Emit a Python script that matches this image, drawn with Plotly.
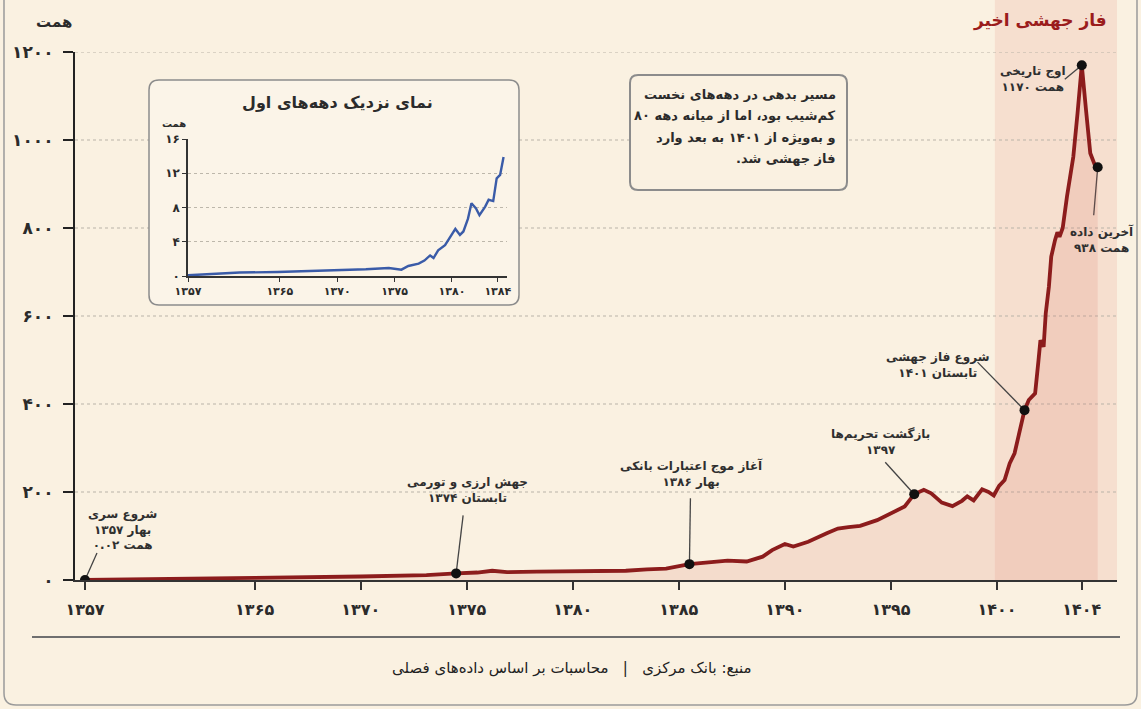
import plotly.graph_objects as go

# ---------------- data ----------------
years = [1357.0, 1360.8, 1365.0, 1370.0, 1373.1, 1374.5, 1375.5, 1376.2, 1376.9, 1378.3,
         1380.0, 1381.3, 1382.5, 1383.5, 1384.4, 1385.5, 1386.4, 1387.3, 1388.2, 1388.95,
         1389.4, 1390.0, 1390.4, 1391.1, 1392.0, 1392.5, 1393.0, 1393.55, 1394.35, 1395.0,
         1395.65, 1396.1, 1396.55, 1396.9, 1397.4, 1397.9, 1398.35, 1398.6, 1398.9, 1399.3,
         1399.6, 1399.85, 1400.1, 1400.36, 1400.6, 1400.83, 1401.0, 1401.2, 1401.3, 1401.5,
         1401.8, 1401.96, 1402.05, 1402.2, 1402.3, 1402.45, 1402.56, 1402.74, 1402.85, 1402.95,
         1403.1, 1403.3, 1403.6, 1403.8, 1404.0, 1404.2, 1404.4, 1404.6, 1404.75]
values = [0.02, 3, 5, 8, 11, 15, 17, 21, 18, 19,
          20, 22, 21, 24, 26, 36, 40, 44, 42, 53,
          68, 82, 76, 87, 107, 117, 120, 123, 136, 152,
          167, 195, 205, 197, 176, 168, 180, 190, 181, 206,
          200, 192, 214, 227, 265, 288, 326, 364, 386, 409,
          424, 500, 545, 530, 606, 667, 735, 773, 790, 780,
          800, 871, 962, 1061, 1170, 1068, 970, 945, 938]
assert len(years) == len(values)

inset_years = [1357.0, 1358.3, 1359.5, 1361.5, 1364.8, 1367.3, 1370.0, 1372.5, 1374.5, 1375.2,
               1375.6, 1376.2, 1377.1, 1377.6, 1378.1, 1378.4, 1378.8, 1379.4, 1379.8, 1380.3,
               1380.7, 1381.0, 1381.4, 1381.7, 1382.1, 1382.4, 1382.9, 1383.2, 1383.6, 1383.9,
               1384.2, 1384.5]
inset_values = [0.08, 0.15, 0.27, 0.4, 0.47, 0.55, 0.66, 0.78, 0.94, 0.86,
                0.74, 1.17, 1.45, 1.8, 2.4, 2.1, 3.0, 3.6, 4.4, 5.5,
                4.8, 5.2, 6.7, 8.5, 7.9, 7.1, 8.1, 8.9, 8.75, 11.4,
                11.8, 13.9]
assert len(inset_years) == len(inset_values)

event_years = [1357.0, 1374.5, 1385.5, 1396.1, 1401.3, 1404.0, 1404.75]
event_values = [0.02, 15, 36, 195, 386, 1170, 938]
event_labels = [
    "شروع سری<br>بهار ۱۳۵۷<br>۰.۰۲ همت",
    "جهش ارزی و تورمی<br>تابستان ۱۳۷۴",
    "آغاز موج اعتبارات بانکی<br>بهار ۱۳۸۶",
    "بازگشت تحریم‌ها<br>۱۳۹۷",
    "شروع فاز جهشی<br>تابستان ۱۴۰۱",
    "اوج تاریخی<br>۱۱۷۰ همت",
    "آخرین داده<br>۹۳۸ همت",
]
note_lines = [
    "مسیر بدهی در دهه‌های نخست",
    "کم‌شیب بود، اما از میانه دهه ۸۰",
    "و به‌ویژه از ۱۴۰۱ به بعد وارد",
    "فاز جهشی شد.\u200f",
]

x_tick_vals = [1357, 1365, 1370, 1375, 1380, 1385, 1390, 1395, 1400, 1404]
x_tick_text = ["۱۳۵۷", "۱۳۶۵", "۱۳۷۰", "۱۳۷۵", "۱۳۸۰", "۱۳۸۵", "۱۳۹۰", "۱۳۹۵", "۱۴۰۰", "۱۴۰۴"]
y_tick_vals = [0, 200, 400, 600, 800, 1000, 1200]
y_tick_text = ["۰", "۲۰۰", "۴۰۰", "۶۰۰", "۸۰۰", "۱۰۰۰", "۱۲۰۰"]
inset_x_tick_vals = [1357, 1365, 1370, 1375, 1380, 1384]
inset_x_tick_text = ["۱۳۵۷", "۱۳۶۵", "۱۳۷۰", "۱۳۷۵", "۱۳۸۰", "۱۳۸۴"]
inset_y_tick_vals = [0, 4, 8, 12, 16]
inset_y_tick_text = ["۰", "۴", "۸", "۱۲", "۱۶"]
surge_start = 1399.9

# ---------------- layout helpers ----------------
W, H = 1141, 709
ML, MR, MT, MB = 75, 24, 52, 129
PW, PH = W - ML - MR, H - MT - MB
FONT = "DejaVu Sans"
BG = "#FAF1E1"
DARK = "#2b2b2b"
RED = "#8C1C1C"
X_RANGE = [1356.53, 1405.66]


def px(x):
    return (x - ML) / PW


def py(y):
    return (H - MB - y) / PH


def rrect(x0, y0, x1, y1, r):
    def P(x, y):
        return f"{px(x):.5f},{py(y):.5f}"
    return (f"M {P(x0 + r, y0)} L {P(x1 - r, y0)} Q {P(x1, y0)} {P(x1, y0 + r)} "
            f"L {P(x1, y1 - r)} Q {P(x1, y1)} {P(x1 - r, y1)} "
            f"L {P(x0 + r, y1)} Q {P(x0, y1)} {P(x0, y1 - r)} "
            f"L {P(x0, y0 + r)} Q {P(x0, y0)} {P(x0 + r, y0)} Z")


fig = go.Figure()

# main series
fig.add_trace(go.Scatter(
    x=years, y=values, mode="lines",
    line=dict(color=RED, width=3.8),
    fill="tozeroy", fillcolor="rgba(215,110,100,0.16)",
    hoverinfo="skip", showlegend=False, xaxis="x", yaxis="y"))

# event dots
fig.add_trace(go.Scatter(
    x=event_years, y=event_values, mode="markers",
    marker=dict(color="#111111", size=10),
    hoverinfo="skip", showlegend=False, xaxis="x", yaxis="y"))

# inset series
fig.add_trace(go.Scatter(
    x=inset_years, y=inset_values, mode="lines",
    line=dict(color="#3A5BA8", width=2.4),
    hoverinfo="skip", showlegend=False, xaxis="x2", yaxis="y2"))

shapes = []
# outer frame
shapes.append(dict(type="path", xref="paper", yref="paper", path=rrect(4, -30, 1137, 705, 12),
                   line=dict(color="#9a9a9a", width=1.5), fillcolor="rgba(0,0,0,0)", layer="below"))
# surge band
shapes.append(dict(type="rect", xref="x", yref="paper", x0=surge_start, x1=X_RANGE[1],
                   y0=0, y1=py(0), fillcolor="rgba(230,150,135,0.19)", line=dict(width=0),
                   layer="below"))
# gridlines
for v in y_tick_vals[1:]:
    shapes.append(dict(type="line", xref="paper", yref="y", x0=0, x1=1, y0=v, y1=v,
                       line=dict(color="#b9b3a8", width=1, dash="dot"), layer="below"))
# inset box
shapes.append(dict(type="path", xref="paper", yref="paper", path=rrect(149, 80, 519, 305, 10),
                   line=dict(color="#8c8c8c", width=1.5), fillcolor="#FBF4E8", layer="below"))
# note box
shapes.append(dict(type="path", xref="paper", yref="paper", path=rrect(630, 75, 847, 190, 8),
                   line=dict(color="#8c8c8c", width=2), fillcolor=BG, layer="below"))
# separator line
shapes.append(dict(type="line", xref="paper", yref="paper", x0=px(32), x1=px(1120),
                   y0=py(637), y1=py(637), line=dict(color="#6f6f6f", width=2)))

# event annotations (offsets in pixels relative to the dot; y up)
text_offsets = [(38, 50), (11, 83), (2, 91), (-34, 52), (-87, 45), (-49, -14), (4, -72)]
leader_ends = [(12, 27), (7, 58), (1, 66), (-29, 32), (-47, 48), (-17, -14), (-4, -48)]

annotations = []
for ex, ev, lab, (tx, ty), (lx, ly) in zip(event_years, event_values, event_labels,
                                            text_offsets, leader_ends):
    shapes.append(dict(type="line", xref="x", yref="y", xsizemode="pixel", ysizemode="pixel",
                       xanchor=ex, yanchor=ev, x0=0, y0=0, x1=lx, y1=ly,
                       line=dict(color="#444444", width=1.3), layer="below"))
    annotations.append(dict(x=ex, y=ev, xref="x", yref="y", text=lab, showarrow=False,
                            xshift=tx, yshift=ty, xanchor="center", yanchor="middle",
                            align="center",
                            font=dict(family=FONT, size=12, color="#2f2f2f", weight="bold")))

# note box text, one line at a time
for i, line in enumerate(note_lines):
    annotations.append(dict(x=px(838), y=py(94 + 21.5 * i), xref="paper", yref="paper",
                            text=line, showarrow=False, xanchor="right", yanchor="middle",
                            font=dict(family=FONT, size=13, color=DARK, weight="bold")))

# text labels
annotations += [
    dict(x=px(54), y=py(22), xref="paper", yref="paper", text="همت", showarrow=False,
         xanchor="center", yanchor="middle",
         font=dict(family=FONT, size=15, color=DARK, weight="bold")),
    dict(x=px(1040), y=py(20), xref="paper", yref="paper", text="فاز جهشی اخیر",
         showarrow=False, xanchor="center", yanchor="middle",
         font=dict(family=FONT, size=17, color="#9B1C1C", weight="bold")),
    dict(x=px(337), y=py(103), xref="paper", yref="paper", text="نمای نزدیک دهه‌های اول",
         showarrow=False, xanchor="center", yanchor="middle",
         font=dict(family=FONT, size=16, color=DARK, weight="bold")),
    dict(x=px(174), y=py(123), xref="paper", yref="paper", text="همت", showarrow=False,
         xanchor="center", yanchor="middle",
         font=dict(family=FONT, size=10, color=DARK, weight="bold")),
    dict(x=px(572), y=py(668), xref="paper", yref="paper",
         text="منبع: بانک مرکزی   |   محاسبات بر اساس داده‌های فصلی", showarrow=False,
         xanchor="center", yanchor="middle",
         font=dict(family=FONT, size=15, color="#222222")),
]

fig.update_layout(
    width=W, height=H,
    margin=dict(l=ML, r=MR, t=MT, b=MB),
    paper_bgcolor=BG, plot_bgcolor="rgba(0,0,0,0)",
    showlegend=False, hovermode=False,
    shapes=shapes, annotations=annotations,
    xaxis=dict(range=X_RANGE, domain=[0, 1], tickvals=x_tick_vals, ticktext=x_tick_text,
               showgrid=False, zeroline=False, showline=True, linecolor="#333333", linewidth=2,
               ticks="outside", ticklen=8, tickwidth=1.5, tickcolor="#333333",
               ticklabelstandoff=6,
               tickfont=dict(family=FONT, size=16, color=DARK, weight="bold")),
    yaxis=dict(range=[0, 1200], domain=[0, 1], tickvals=y_tick_vals, ticktext=y_tick_text,
               showgrid=False, zeroline=False, showline=True, linecolor="#222222", linewidth=2,
               ticks="outside", ticklen=10, tickwidth=1.5, tickcolor="#222222",
               ticklabelstandoff=6,
               tickfont=dict(family=FONT, size=17, color=DARK, weight="bold")),
    xaxis2=dict(range=[1357, 1384.8], domain=[px(188), px(507)], anchor="y2",
                tickvals=inset_x_tick_vals, ticktext=inset_x_tick_text,
                showgrid=False, zeroline=False, showline=True, linecolor="#333333", linewidth=1.5,
                ticks="outside", ticklen=4, tickwidth=1, tickcolor="#333333",
                tickfont=dict(family=FONT, size=11, color=DARK, weight="bold")),
    yaxis2=dict(range=[0, 16], domain=[py(276), py(139)], anchor="x2",
                tickvals=inset_y_tick_vals, ticktext=inset_y_tick_text,
                showgrid=True, gridcolor="#bdb7ab", griddash="dot", gridwidth=1,
                zeroline=False, showline=True, linecolor="#333333", linewidth=1.5,
                ticks="outside", ticklen=4, tickwidth=1, tickcolor="#333333",
                tickfont=dict(family=FONT, size=12, color=DARK, weight="bold")),
)

fig.write_html("out.html", config={"displayModeBar": False},
               post_script="document.body.style.margin='0';document.body.style.overflow='hidden';")
